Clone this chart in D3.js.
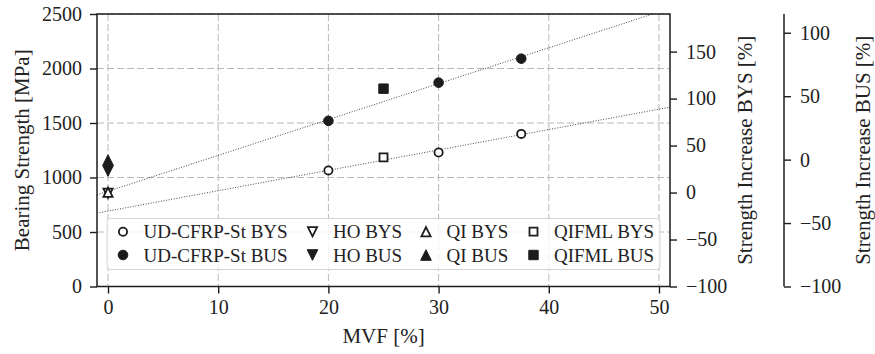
<!DOCTYPE html>
<html>
<head>
<meta charset="utf-8">
<script src="https://cdn.jsdelivr.net/npm/d3@7"></script>
<style>
  body { margin: 0; background: #fff; }
  text { font-family: "Liberation Serif", "Times New Roman", serif; fill: #222; }
</style>
</head>
<body>
<svg id="chart" width="875" height="354"></svg>
<script>
// values (MPa)
var udMVF = [20, 30, 37.5];
var udBYS = [1065, 1230, 1400];
var udBUS = [1520, 1870, 2090];

var baseMVF = [0];
var hoBYS = [855];
var hoBUS = [1060];
var qiBYS = [865];
var qiBUS = [1160];

var qifmlMVF = [25];
var qifmlBYS = [1185];
var qifmlBUS = [1815];

// linear trend lines: [intercept, slope]
var bysTrend = [692, 18.7];
var busTrend = [874, 32.9];

// reference strengths for the "increase" axes
var bysRef = 862;
var busRef = 1164;

var xTicks = [0, 10, 20, 30, 40, 50];
var yTicks = [0, 500, 1000, 1500, 2000, 2500];
var bysTicks = [-100, -50, 0, 50, 100, 150];
var busTicks = [-100, -50, 0, 50, 100];

var margin = { left: 97, right: 670, top: 14, bottom: 286.5 };
var ink = "#1c1c1c";

var svg = d3.select("#chart");

var x = d3.scaleLinear().domain([-1, 51]).range([margin.left, margin.right]);
var y = d3.scaleLinear().domain([0, 2500]).range([margin.bottom, margin.top]);
var yBYS = d3.scaleLinear().domain([-100, 2500 / bysRef * 100 - 100]).range([margin.bottom, margin.top]);
var yBUS = d3.scaleLinear().domain([-100, 2500 / busRef * 100 - 100]).range([margin.bottom, margin.top]);

svg.append("clipPath").attr("id", "plot")
  .append("rect").attr("x", margin.left).attr("y", margin.top)
  .attr("width", margin.right - margin.left).attr("height", margin.bottom - margin.top);

// grid
var grid = svg.append("g").attr("stroke", "#b8b8b8").attr("stroke-width", 1)
  .attr("stroke-dasharray", "7,3").attr("fill", "none");
grid.selectAll(".gx").data(xTicks).enter().append("line")
  .attr("x1", d => x(d)).attr("x2", d => x(d)).attr("y1", margin.top).attr("y2", margin.bottom);
grid.selectAll(".gy").data(yTicks).enter().append("line")
  .attr("y1", d => y(d)).attr("y2", d => y(d)).attr("x1", margin.left).attr("x2", margin.right);

// trend lines
var line = d3.line().x(d => x(d[0])).y(d => y(d[1]));
[bysTrend, busTrend].forEach(function (t) {
  var pts = x.domain().map(m => [m, t[0] + t[1] * m]);
  svg.append("path").datum(pts)
    .attr("clip-path", "url(#plot)")
    .attr("d", line)
    .attr("fill", "none").attr("stroke", "#333")
    .attr("stroke-width", 0.9).attr("stroke-dasharray", "1,1.6");
});

// marker shapes
function shapePath(shape, s) {
  if (shape === "circle") return d3.symbol(d3.symbolCircle, Math.PI * s * s)();
  if (shape === "up") return "M0," + (-s) + "L" + s + "," + s + "L" + (-s) + "," + s + "Z";
  if (shape === "down") return "M0," + s + "L" + s + "," + (-s) + "L" + (-s) + "," + (-s) + "Z";
  return "M" + (-s) + "," + (-s) + "H" + s + "V" + s + "H" + (-s) + "Z";
}
var sizes = { circle: 4.5, up: 5, down: 5, square: 4.4 };

function drawMarker(g, shape, filled) {
  g.append("path")
    .attr("d", shapePath(shape, filled ? sizes[shape] + 0.3 : sizes[shape] - 0.4))
    .attr("fill", filled ? ink : "#fff")
    .attr("stroke", ink)
    .attr("stroke-width", filled ? 1 : 1.8)
    .attr("stroke-linejoin", "miter");
}

var series = [
  { label: "UD-CFRP-St BYS", xs: udMVF, ys: udBYS, shape: "circle", filled: false },
  { label: "UD-CFRP-St BUS", xs: udMVF, ys: udBUS, shape: "circle", filled: true },
  { label: "HO BYS", xs: baseMVF, ys: hoBYS, shape: "down", filled: false },
  { label: "HO BUS", xs: baseMVF, ys: hoBUS, shape: "down", filled: true },
  { label: "QI BYS", xs: baseMVF, ys: qiBYS, shape: "up", filled: false },
  { label: "QI BUS", xs: baseMVF, ys: qiBUS, shape: "up", filled: true },
  { label: "QIFML BYS", xs: qifmlMVF, ys: qifmlBYS, shape: "square", filled: false },
  { label: "QIFML BUS", xs: qifmlMVF, ys: qifmlBUS, shape: "square", filled: true }
];

series.forEach(function (s) {
  s.xs.forEach(function (m, i) {
    var g = svg.append("g").attr("transform", "translate(" + x(m) + "," + y(s.ys[i]) + ")");
    drawMarker(g, s.shape, s.filled);
  });
});

// axes
var tickFmt = d => d3.format("d")(d).replace("-", "\u2212");
function styleAxis(g) {
  g.select(".domain").remove();
  g.selectAll(".tick line").attr("stroke", ink).attr("stroke-width", 1.4);
  g.selectAll(".tick text").attr("fill", "#222")
    .style("font-family", '"Liberation Serif", serif').style("font-size", "20px");
}

svg.append("g").attr("transform", "translate(0," + margin.bottom + ")")
  .call(d3.axisBottom(x).tickValues(xTicks).tickSize(7).tickPadding(6).tickFormat(tickFmt))
  .call(styleAxis);
svg.append("g").attr("transform", "translate(" + margin.left + ",0)")
  .call(d3.axisLeft(y).tickValues(yTicks).tickSize(7).tickPadding(8).tickFormat(tickFmt))
  .call(styleAxis);
svg.append("g").attr("transform", "translate(" + margin.right + ",0)")
  .call(d3.axisRight(yBYS).tickValues(bysTicks).tickSize(7).tickPadding(9).tickFormat(tickFmt))
  .call(styleAxis);
var busX = 784;
svg.append("g").attr("transform", "translate(" + busX + ",0)")
  .call(d3.axisRight(yBUS).tickValues(busTicks).tickSize(7).tickPadding(9).tickFormat(tickFmt))
  .call(styleAxis);

// spines
svg.append("rect").attr("x", margin.left).attr("y", margin.top)
  .attr("width", margin.right - margin.left).attr("height", margin.bottom - margin.top)
  .attr("fill", "none").attr("stroke", ink).attr("stroke-width", 1.5);
svg.append("line").attr("x1", busX).attr("x2", busX).attr("y1", margin.top).attr("y2", margin.bottom)
  .attr("stroke", ink).attr("stroke-width", 1.5);

// axis labels
var midY = (margin.top + margin.bottom) / 2;
svg.append("text").attr("x", (margin.left + margin.right) / 2).attr("y", 343)
  .attr("text-anchor", "middle").style("font-size", "21px").text("MVF [%]");
svg.append("text").attr("transform", "translate(29," + midY + ") rotate(-90)")
  .attr("text-anchor", "middle").style("font-size", "21px").text("Bearing Strength [MPa]");
svg.append("text").attr("transform", "translate(752," + midY + ") rotate(-90)")
  .attr("text-anchor", "middle").style("font-size", "21px").text("Strength Increase BYS [%]");
svg.append("text").attr("transform", "translate(870," + midY + ") rotate(-90)")
  .attr("text-anchor", "middle").style("font-size", "21px").text("Strength Increase BUS [%]");

// legend
var legend = svg.append("g");
legend.append("rect").attr("x", 107).attr("y", 218.5).attr("width", 553).attr("height", 51)
  .attr("rx", 3.5).attr("fill", "#fff").attr("fill-opacity", 0.8)
  .attr("stroke", "#d4d4d4").attr("stroke-width", 1);
var colX = [123, 312.5, 426, 533.5];
var rowY = [231.7, 255];
series.forEach(function (s, i) {
  var cx = colX[Math.floor(i / 2)], cy = rowY[i % 2];
  var g = legend.append("g").attr("transform", "translate(" + cx + "," + cy + ")");
  drawMarker(g, s.shape, s.filled);
  legend.append("text").attr("x", cx + 20.5).attr("y", cy).attr("dy", "0.35em")
    .style("font-size", "19px").text(s.label);
});
</script>
</body>
</html>
